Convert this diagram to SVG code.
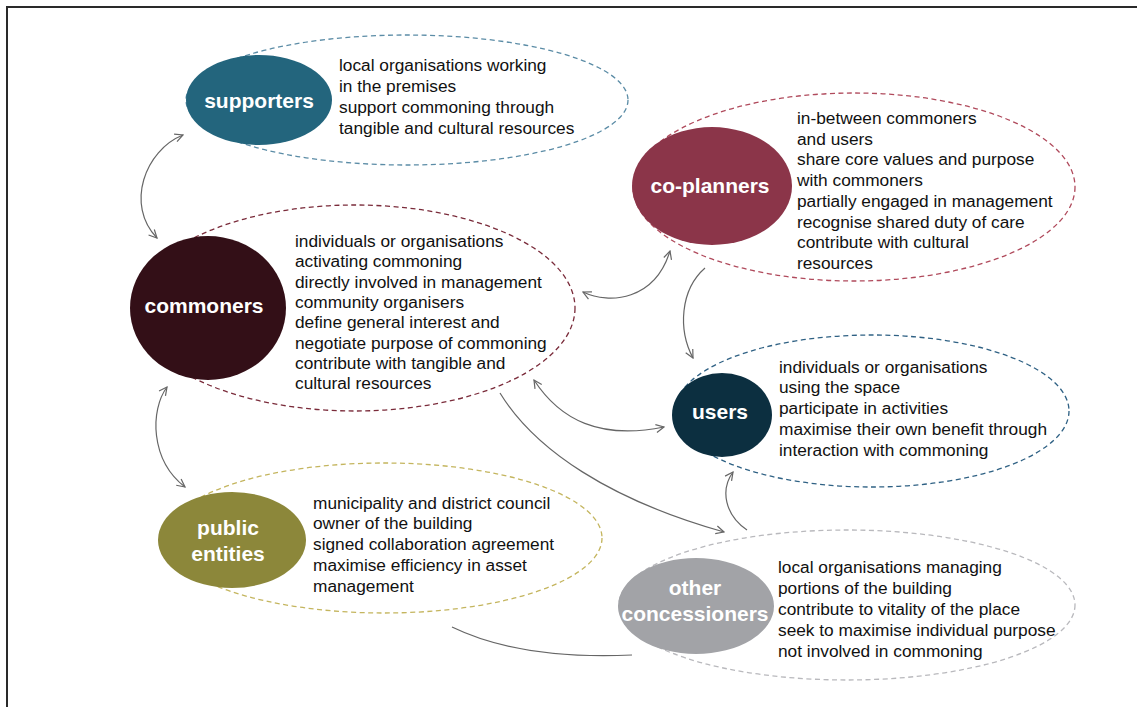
<svg xmlns="http://www.w3.org/2000/svg" width="1137" height="707" viewBox="0 0 1137 707">
<style>
.frame{stroke:#2a2a2a;stroke-width:2;fill:none}
.halo{fill:none;stroke-width:1.3;stroke-dasharray:5 3.5}
.lbl{font-family:"Liberation Sans",Arial,sans-serif;font-weight:bold;font-size:21px;fill:#ffffff;text-anchor:middle}
.desc{font-family:"Liberation Sans",Arial,sans-serif;font-size:17.3px;fill:#111111}
.conn{fill:none;stroke:#666666;stroke-width:1.2}
</style>
<defs>
<marker id="arr" viewBox="0 0 10 10" refX="9" refY="5" markerWidth="10" markerHeight="10" markerUnits="userSpaceOnUse" orient="auto-start-reverse">
<path d="M1,1 L9,5 L1,9" fill="none" stroke="#666666" stroke-width="1.2"/>
</marker>
</defs>
<rect width="1137" height="707" fill="#ffffff"/>
<path class="frame" d="M7,707 L7,7 L1137,7"/>

<g id="supporters">
<ellipse class="halo" cx="407" cy="100" rx="221" ry="65" stroke="#5b8ca6"/>
<ellipse cx="259" cy="100" rx="73" ry="45" fill="#23657d"/>
<text class="lbl" x="259" y="107.5">supporters</text>
<text class="desc" x="339" y="71">local organisations working</text>
<text class="desc" x="339" y="92">in the premises</text>
<text class="desc" x="339" y="113">support commoning through</text>
<text class="desc" x="339" y="134">tangible and cultural resources</text>
</g>

<g id="co-planners">
<ellipse class="halo" cx="854" cy="187" rx="221" ry="94" stroke="#b04a5c"/>
<ellipse cx="712" cy="186" rx="80" ry="59" fill="#8b3549"/>
<text class="lbl" x="710" y="193">co-planners</text>
<text class="desc" x="797" y="124">in-between commoners</text>
<text class="desc" x="797" y="144.7">and users</text>
<text class="desc" x="797" y="165.4">share core values and purpose</text>
<text class="desc" x="797" y="186.1">with commoners</text>
<text class="desc" x="797" y="206.8">partially engaged in management</text>
<text class="desc" x="797" y="227.5">recognise shared duty of care</text>
<text class="desc" x="797" y="248.2">contribute with cultural</text>
<text class="desc" x="797" y="268.9">resources</text>
</g>

<g id="commoners">
<ellipse class="halo" cx="355" cy="308" rx="220" ry="103" stroke="#7a2b3a"/>
<ellipse cx="208" cy="308" rx="78" ry="72" fill="#330f17"/>
<text class="lbl" x="204" y="313">commoners</text>
<text class="desc" x="295" y="247">individuals or organisations</text>
<text class="desc" x="295" y="267.3">activating commoning</text>
<text class="desc" x="295" y="287.6">directly involved in management</text>
<text class="desc" x="295" y="307.9">community organisers</text>
<text class="desc" x="295" y="328.2">define general interest and</text>
<text class="desc" x="295" y="348.5">negotiate purpose of commoning</text>
<text class="desc" x="295" y="368.8">contribute with tangible and</text>
<text class="desc" x="295" y="389.1">cultural resources</text>
</g>

<g id="users">
<ellipse class="halo" cx="872" cy="411" rx="197" ry="76" stroke="#2f6184"/>
<ellipse cx="722" cy="415" rx="50" ry="42" fill="#0c2f40"/>
<text class="lbl" x="720" y="419">users</text>
<text class="desc" x="779" y="372.5">individuals or organisations</text>
<text class="desc" x="779" y="393.3">using the space</text>
<text class="desc" x="779" y="414.1">participate in activities</text>
<text class="desc" x="779" y="434.9">maximise their own benefit through</text>
<text class="desc" x="779" y="455.7">interaction with commoning</text>
</g>

<g id="public-entities">
<ellipse class="halo" cx="384" cy="538" rx="218" ry="75" stroke="#c4b55e"/>
<ellipse cx="232" cy="540" rx="74" ry="48" fill="#8c873a"/>
<text class="lbl" x="228" y="535">public</text>
<text class="lbl" x="228" y="561">entities</text>
<text class="desc" x="313" y="508.5">municipality and district council</text>
<text class="desc" x="313" y="529.3">owner of the building</text>
<text class="desc" x="313" y="550.1">signed collaboration agreement</text>
<text class="desc" x="313" y="570.9">maximise efficiency in asset</text>
<text class="desc" x="313" y="591.7">management</text>
</g>

<g id="other-concessioners">
<ellipse class="halo" cx="847" cy="605" rx="228" ry="75" stroke="#b9b9bd"/>
<ellipse cx="696" cy="606" rx="78" ry="48" fill="#a2a3a7"/>
<text class="lbl" x="695" y="595">other</text>
<text class="lbl" x="695" y="621">concessioners</text>
<text class="desc" x="778" y="572.5">local organisations managing</text>
<text class="desc" x="778" y="593.5">portions of the building</text>
<text class="desc" x="778" y="614.5">contribute to vitality of the place</text>
<text class="desc" x="778" y="635.5">seek to maximise individual purpose</text>
<text class="desc" x="778" y="656.5">not involved in commoning</text>
</g>

<g id="connectors">
<path class="conn" d="M183,135 C145,150 125,205 157,238" marker-start="url(#arr)" marker-end="url(#arr)"/>
<path class="conn" d="M167,387 C150,410 150,460 185,487" marker-start="url(#arr)" marker-end="url(#arr)"/>
<path class="conn" d="M583,292 C610,305 655,300 670,251" marker-start="url(#arr)" marker-end="url(#arr)"/>
<path class="conn" d="M705,268 C680,290 678,330 693,358" marker-end="url(#arr)"/>
<path class="conn" d="M534,380 C560,420 600,440 664,427" marker-start="url(#arr)" marker-end="url(#arr)"/>
<path class="conn" d="M500,393 C535,450 610,500 724,532" marker-end="url(#arr)"/>
<path class="conn" d="M747,530 C725,515 720,490 733,472" marker-end="url(#arr)"/>
<path class="conn" d="M452,627 Q520,660 632,655"/>
</g>
</svg>
